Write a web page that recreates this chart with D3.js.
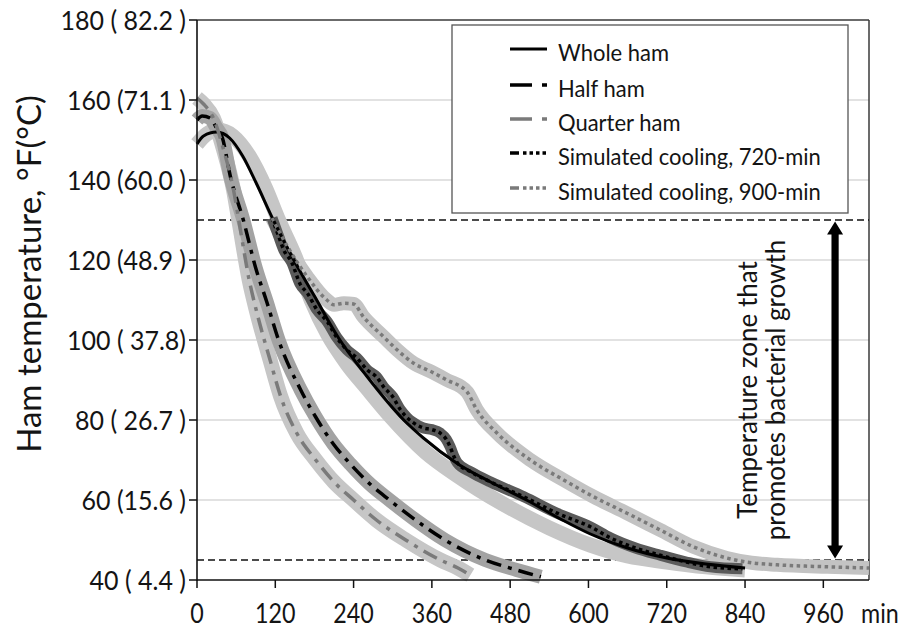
<!DOCTYPE html>
<html><head><meta charset="utf-8">
<script src="https://cdn.jsdelivr.net/npm/d3@7"></script>
<style>
body{margin:0;background:#fff}
svg text{font-family:Lato,'Open Sans',sans-serif;fill:#141414}
</style>
</head><body>
<svg id="chart" width="904" height="629"></svg>
<script>
// ---------- data ----------
const xTickValues = [0,120,240,360,480,600,720,840,960];
const yTickValues = [40,60,80,100,120,140,160,180];
const yTickLabels = ["40 ( 4.4 )","60 (15.6 )","80 ( 26.7 )","100 ( 37.8)","120 (48.9 )","140 (60.0 )","160 (71.1 )","180 ( 82.2 )"];
const gridValues = [60,80,100,120,140,160];
const zoneLimits = [130,45];

const legendNames = ["Whole ham","Half ham","Quarter ham","Simulated cooling, 720-min","Simulated cooling, 900-min"];

// [minutes, °F]
const wholeHam = [[0,149],[10,151],[30,152],[50,150.5],[70,146],[90,139.5],[117,130],[150,119.5],[180,111],[217,100.5],[260,91],[317,80],[347,75.5],[400,69],[450,64.5],[505,60],[560,55],[603,51.5],[660,48],[720,45.5],[780,44],[840,43]];
const wholeHamBand = [[0,149],[15,151.5],[32,152.5],[55,151],[80,146],[105,138],[125,130],[150,121],[175,110],[200,101.5],[230,94],[260,88],[296,81],[350,72],[400,66],[480,58],[540,53],[603,48.7],[660,46],[720,44.5],[780,43.3],[840,42.5]];
const halfHam = [[0,155],[8,156],[20,155.5],[30,153],[39,150.5],[51,141],[71,130],[90,118],[107,109.5],[125,100],[159,87.5],[181,81],[209,74],[235,69],[265,64],[295,60],[335,55],[380,50],[442,45],[490,42.5],[527,40.8]];
const quarterHam = [[0,160.5],[10,159],[25,155.5],[40,148],[56,137.5],[64,130],[80,115],[92,106.7],[112,95],[128,86],[153,76.7],[182,70],[210,64.5],[240,60],[275,55],[320,50],[373,45],[400,43],[419,41.2]];
const sim720 = [[115,130.5],[125,126],[133,122.5],[145,119.5],[158,114],[170,111.5],[184,107.5],[200,104.5],[214,100.7],[230,97.5],[245,95.5],[261,92.5],[275,90.8],[286,88.3],[300,85.8],[312,82.5],[322,80.6],[330,79.5],[347,78],[360,77.6],[373,76.7],[382,75.2],[388,73.3],[394,70.8],[399,69.3],[420,67],[450,64.5],[501,60.8],[552,56.7],[603,53.3],[634,50.5],[672,48],[710,46.2],[750,44.5],[787,43.3],[836,42.8]];
const sim900 = [[115,130.5],[140,123],[169,115.8],[199,110],[210,108.8],[225,109.2],[240,109],[255,105.8],[286,100.8],[307,97.5],[332,94.2],[360,92],[383,90],[414,87],[429,82.5],[460,76.7],[511,70],[562,65],[608,60.8],[659,56.7],[710,52.5],[761,48.3],[812,45.5],[850,44.3],[889,43.8],[966,43.3],[1030,43]];

const arrowTime = 978;
const noteLines = ["Temperature zone that","promotes bacterial growth"];

// ---------- layout ----------
const svg = d3.select("#chart");
const L = 197, R = 869, T = 20, B = 580;
const x = d3.scaleLinear().domain([0,1030]).range([L,R]);
const y = d3.scaleLinear().domain([40,180]).range([B,T]);
const line = d3.line().x(d=>x(d[0])).y(d=>y(d[1])).curve(d3.curveMonotoneX);

// grid
svg.append("g").selectAll("line").data(gridValues).join("line")
  .attr("x1",L).attr("x2",R).attr("y1",d=>y(d)).attr("y2",d=>y(d))
  .attr("stroke","#d9d9d9").attr("stroke-width",1.5);

// frame top/right
svg.append("line").attr("x1",L).attr("x2",R).attr("y1",T).attr("y2",T).attr("stroke","#3a3a3a").attr("stroke-width",1.5);
svg.append("line").attr("x1",R).attr("x2",R).attr("y1",T).attr("y2",B).attr("stroke","#3a3a3a").attr("stroke-width",1.5);

// zone dashed lines
svg.append("g").selectAll("line").data(zoneLimits).join("line")
  .attr("x1",L).attr("x2",R).attr("y1",d=>y(d)).attr("y2",d=>y(d))
  .attr("stroke","#111").attr("stroke-width",1.6).attr("stroke-dasharray","7,4");

// bands
const bands = [
  {d:sim900, c:"#c3c3c3", w:14},
  {d:wholeHamBand, c:"#c6c6c6", w:15},
  {d:quarterHam, c:"#c6c6c6", w:15},
  {d:halfHam, c:"#a3a3a3", w:14},
  {d:sim720, c:"#5a5a5a", w:11}
];
svg.append("g").selectAll("path").data(bands).join("path")
  .attr("d",b=>line(b.d)).attr("fill","none").attr("stroke",b=>b.c)
  .attr("stroke-width",b=>b.w).attr("stroke-linecap","butt").attr("stroke-linejoin","round");

// lines
const styles = [
  {d:wholeHam, c:"#000", w:3, dash:null, ldash:null},
  {d:halfHam, c:"#000", w:3.5, dash:"15,7,4,7", ldash:"22,10,5,100"},
  {d:quarterHam, c:"#7a7a7a", w:3.5, dash:"15,7,4,7", ldash:"22,10,5,100"},
  {d:sim720, c:"#000", w:3.5, dash:"3.5,3.5", ldash:"9,4,3.5,3,3.5,3,3.5,3,3.5,100"},
  {d:sim900, c:"#7a7a7a", w:3.5, dash:"3.5,3.5", ldash:"9,4,3.5,3,3.5,3,3.5,3,3.5,100"}
];
svg.append("g").selectAll("path").data(styles).join("path")
  .attr("d",s=>line(s.d)).attr("fill","none").attr("stroke",s=>s.c)
  .attr("stroke-width",s=>s.w).attr("stroke-dasharray",s=>s.dash);

// axes
const yAxis = svg.append("g");
yAxis.append("line").attr("x1",L).attr("x2",L).attr("y1",T).attr("y2",B+1).attr("stroke","#111").attr("stroke-width",1.6);
yAxis.selectAll("line.t").data(yTickValues).join("line").attr("class","t")
  .attr("x1",L-8).attr("x2",L).attr("y1",d=>y(d)).attr("y2",d=>y(d)).attr("stroke","#111").attr("stroke-width",1.5);
yAxis.selectAll("text").data(yTickValues).join("text")
  .attr("transform",d=>`translate(${L-11},${y(d)}) scale(1,1.1)`).attr("dy","0.36em").attr("text-anchor","end")
  .attr("font-size",25).style("white-space","pre").text((d,i)=>yTickLabels[i]);

const xAxis = svg.append("g");
xAxis.append("line").attr("x1",L).attr("x2",R).attr("y1",B).attr("y2",B).attr("stroke","#111").attr("stroke-width",1.6);
xAxis.selectAll("line.t").data(xTickValues).join("line").attr("class","t")
  .attr("x1",d=>x(d)).attr("x2",d=>x(d)).attr("y1",B).attr("y2",B+8).attr("stroke","#111").attr("stroke-width",1.5);
xAxis.selectAll("text").data(xTickValues).join("text")
  .attr("transform",d=>`translate(${x(d)},623) scale(0.95,1.1)`).attr("text-anchor","middle").attr("font-size",24.5).text(d=>d);
xAxis.append("text").attr("transform","translate(861,623) scale(0.95,1.1)").attr("font-size",24.5).text("min");

// y title
svg.append("text").attr("transform","translate(41,274) rotate(-90)").attr("text-anchor","middle")
  .attr("font-size",33).text("Ham temperature, °F(°C)");

// arrow
const ax = x(arrowTime), ay1 = y(zoneLimits[0]) + 1.5, ay2 = y(zoneLimits[1]) - 1.5;
const sw = 3.6, hw = 8, hl = 13;
svg.append("path").attr("fill","#000").attr("d",
  `M${ax},${ay1} L${ax+hw},${ay1+hl} L${ax+sw},${ay1+hl} L${ax+sw},${ay2-hl} L${ax+hw},${ay2-hl} L${ax},${ay2} L${ax-hw},${ay2-hl} L${ax-sw},${ay2-hl} L${ax-sw},${ay1+hl} L${ax-hw},${ay1+hl} Z`);

// note
const noteY = (y(zoneLimits[0]) + y(zoneLimits[1]))/2;
noteLines.forEach((t,i)=>{
  svg.append("text").attr("transform",`translate(${ax-78+i*28},${noteY}) rotate(-90)`)
    .attr("text-anchor","middle").attr("font-size",26).text(t);
});

// legend
const lg = svg.append("g");
lg.append("rect").attr("x",452).attr("y",25).attr("width",396).attr("height",188)
  .attr("fill","#fff").attr("stroke","#555").attr("stroke-width",1.3);
const rowY = [53,89,123,157,192];
styles.forEach((s,i)=>{
  lg.append("line").attr("x1",510).attr("x2",547).attr("y1",rowY[i]-4).attr("y2",rowY[i]-4)
    .attr("stroke",s.c).attr("stroke-width",s.w).attr("stroke-dasharray",s.ldash);
  lg.append("text").attr("transform",`translate(558,${rowY[i]}) scale(1,1.08)`).attr("dy","0.33em").attr("font-size",22).text(legendNames[i]);
});
</script>
</body></html>
